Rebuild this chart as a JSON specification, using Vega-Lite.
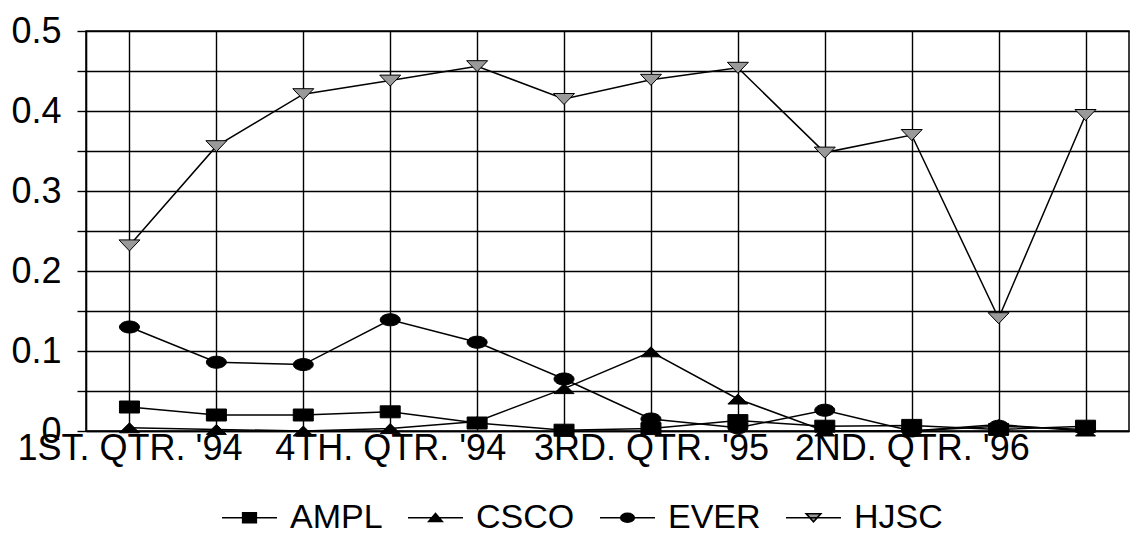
{
  "$schema": "https://vega.github.io/schema/vega-lite/v6.json",
  "width": 1043,
  "height": 400,
  "padding": {"left": 10, "top": 13, "right": 4, "bottom": 0},
  "background": "white",
  "config": {
    "view": {"stroke": "black", "strokeWidth": 1.5},
    "font": "Liberation Sans",
    "axis": {"gridColor": "black", "gridWidth": 1.4, "gridOpacity": 1, "domainColor": "black", "domainWidth": 1.6, "tickColor": "black", "tickWidth": 1.4, "labelColor": "black", "labelFont": "Liberation Sans"}
  },
  "data": {
    "values": [
      {"quarter": "1ST. QTR. '94", "series": "AMPL", "value": 0.030},
      {"quarter": "2ND. QTR. '94", "series": "AMPL", "value": 0.020},
      {"quarter": "3RD. QTR. '94", "series": "AMPL", "value": 0.020},
      {"quarter": "4TH. QTR. '94", "series": "AMPL", "value": 0.024},
      {"quarter": "1ST. QTR. '95", "series": "AMPL", "value": 0.010},
      {"quarter": "2ND. QTR. '95", "series": "AMPL", "value": 0.001},
      {"quarter": "3RD. QTR. '95", "series": "AMPL", "value": 0.003},
      {"quarter": "4TH. QTR. '95", "series": "AMPL", "value": 0.013},
      {"quarter": "1ST. QTR. '96", "series": "AMPL", "value": 0.006},
      {"quarter": "2ND. QTR. '96", "series": "AMPL", "value": 0.007},
      {"quarter": "3RD. QTR. '96", "series": "AMPL", "value": 0.002},
      {"quarter": "4TH. QTR. '96", "series": "AMPL", "value": 0.006},
      {"quarter": "1ST. QTR. '94", "series": "CSCO", "value": 0.004},
      {"quarter": "2ND. QTR. '94", "series": "CSCO", "value": 0.002},
      {"quarter": "3RD. QTR. '94", "series": "CSCO", "value": 0.000},
      {"quarter": "4TH. QTR. '94", "series": "CSCO", "value": 0.003},
      {"quarter": "1ST. QTR. '95", "series": "CSCO", "value": 0.012},
      {"quarter": "2ND. QTR. '95", "series": "CSCO", "value": 0.053},
      {"quarter": "3RD. QTR. '95", "series": "CSCO", "value": 0.099},
      {"quarter": "4TH. QTR. '95", "series": "CSCO", "value": 0.040},
      {"quarter": "1ST. QTR. '96", "series": "CSCO", "value": 0.000},
      {"quarter": "2ND. QTR. '96", "series": "CSCO", "value": 0.000},
      {"quarter": "3RD. QTR. '96", "series": "CSCO", "value": 0.008},
      {"quarter": "4TH. QTR. '96", "series": "CSCO", "value": 0.000},
      {"quarter": "1ST. QTR. '94", "series": "EVER", "value": 0.130},
      {"quarter": "2ND. QTR. '94", "series": "EVER", "value": 0.086},
      {"quarter": "3RD. QTR. '94", "series": "EVER", "value": 0.083},
      {"quarter": "4TH. QTR. '94", "series": "EVER", "value": 0.139},
      {"quarter": "1ST. QTR. '95", "series": "EVER", "value": 0.111},
      {"quarter": "2ND. QTR. '95", "series": "EVER", "value": 0.065},
      {"quarter": "3RD. QTR. '95", "series": "EVER", "value": 0.015},
      {"quarter": "4TH. QTR. '95", "series": "EVER", "value": 0.004},
      {"quarter": "1ST. QTR. '96", "series": "EVER", "value": 0.026},
      {"quarter": "2ND. QTR. '96", "series": "EVER", "value": 0.000},
      {"quarter": "3RD. QTR. '96", "series": "EVER", "value": 0.006},
      {"quarter": "4TH. QTR. '96", "series": "EVER", "value": 0.002},
      {"quarter": "1ST. QTR. '94", "series": "HJSC", "value": 0.232},
      {"quarter": "2ND. QTR. '94", "series": "HJSC", "value": 0.356},
      {"quarter": "3RD. QTR. '94", "series": "HJSC", "value": 0.421},
      {"quarter": "4TH. QTR. '94", "series": "HJSC", "value": 0.438},
      {"quarter": "1ST. QTR. '95", "series": "HJSC", "value": 0.456},
      {"quarter": "2ND. QTR. '95", "series": "HJSC", "value": 0.415},
      {"quarter": "3RD. QTR. '95", "series": "HJSC", "value": 0.439},
      {"quarter": "4TH. QTR. '95", "series": "HJSC", "value": 0.454},
      {"quarter": "1ST. QTR. '96", "series": "HJSC", "value": 0.348},
      {"quarter": "2ND. QTR. '96", "series": "HJSC", "value": 0.370},
      {"quarter": "3RD. QTR. '96", "series": "HJSC", "value": 0.141},
      {"quarter": "4TH. QTR. '96", "series": "HJSC", "value": 0.395}
    ]
  },
  "encoding": {
    "x": {
      "field": "quarter",
      "type": "ordinal",
      "sort": null,
      "scale": {"type": "point", "padding": 0.5},
      "title": null,
      "axis": {
        "labelAngle": 0,
        "labelFontSize": 36,
        "labelPadding": 0,
        "labelOverlap": false,
        "labelLimit": 600,
        "labelBaseline": "top",
        "ticks": false,
        "domain": true,
        "grid": true,
        "labelExpr": "indexof([\"1ST. QTR. '94\", \"4TH. QTR. '94\", \"3RD. QTR. '95\", \"2ND. QTR. '96\"], datum.value) >= 0 ? datum.label : ''"
      }
    },
    "y": {
      "field": "value",
      "type": "quantitative",
      "scale": {"domain": [0, 0.5], "nice": false, "zero": true},
      "title": null,
      "axis": {
        "values": [0, 0.05, 0.1, 0.15, 0.2, 0.25, 0.3, 0.35, 0.4, 0.45, 0.5],
        "labelExpr": "(round(datum.value * 100) % 10 == 0) ? format(datum.value, '.1~f') : ''",
        "labelFontSize": 36,
        "labelPadding": 16,
        "tickSize": 9,
        "grid": true,
        "domain": true
      }
    }
  },
  "layer": [
    {
      "mark": {"type": "line", "color": "black", "strokeWidth": 1.5},
      "encoding": {"detail": {"field": "series"}}
    },
    {
      "mark": {"type": "point", "filled": true, "opacity": 1, "stroke": "black", "strokeWidth": 1, "size": 400},
      "encoding": {
        "shape": {
          "field": "series",
          "type": "nominal",
          "scale": {
            "domain": ["AMPL", "CSCO", "EVER", "HJSC"],
            "range": [
              "M-1,-0.6H1V0.6H-1Z",
              "M-1,0.5L0,-0.5L1,0.5Z",
              "M-1,0A1,0.6,0,1,0,1,0A1,0.6,0,1,0,-1,0Z",
              "M-1.05,-0.55H1.05L0,0.55Z"
            ]
          },
          "legend": null
        },
        "fill": {
          "field": "series",
          "type": "nominal",
          "scale": {"domain": ["AMPL", "CSCO", "EVER", "HJSC"], "range": ["black", "black", "black", "#9a9a9a"]},
          "legend": null
        }
      }
    },
    {
      "transform": [{"filter": "datum.value < -1"}],
      "mark": {"type": "point", "filled": true, "opacity": 1, "stroke": "black", "strokeWidth": 1.5},
      "encoding": {
        "shape": {
          "field": "series",
          "type": "nominal",
          "scale": {
            "domain": ["AMPL", "CSCO", "EVER", "HJSC"],
            "range": [
              "M-1,0H1M-0.25,-0.18H0.25V0.18H-0.25Z",
              "M-1,0H1M-0.25,0.14L0,-0.16L0.25,0.14Z",
              "M-1,0H1M-0.25,0A0.25,0.16,0,1,0,0.25,0A0.25,0.16,0,1,0,-0.25,0Z",
              "M-1,0H1M-0.27,-0.15H0.27L0,0.15Z"
            ]
          },
          "legend": {
            "title": null,
            "orient": "none",
            "legendX": 135,
            "legendY": 458,
            "direction": "horizontal",
            "labelFontSize": 34,
            "labelColor": "black",
            "labelFont": "Liberation Sans",
            "symbolSize": 3025,
            "symbolStrokeWidth": 1.5,
            "labelOffset": 12,
            "columnPadding": 22
          }
        },
        "fill": {
          "field": "series",
          "type": "nominal",
          "scale": {"domain": ["AMPL", "CSCO", "EVER", "HJSC"], "range": ["black", "black", "black", "#9a9a9a"]},
          "legend": {
            "title": null,
            "orient": "none",
            "legendX": 135,
            "legendY": 458,
            "direction": "horizontal",
            "labelFontSize": 34,
            "symbolSize": 3025,
            "labelOffset": 12,
            "columnPadding": 22
          }
        }
      }
    }
  ],
  "resolve": {
    "scale": {"shape": "independent", "fill": "independent"},
    "legend": {"shape": "independent", "fill": "independent"}
  }
}
